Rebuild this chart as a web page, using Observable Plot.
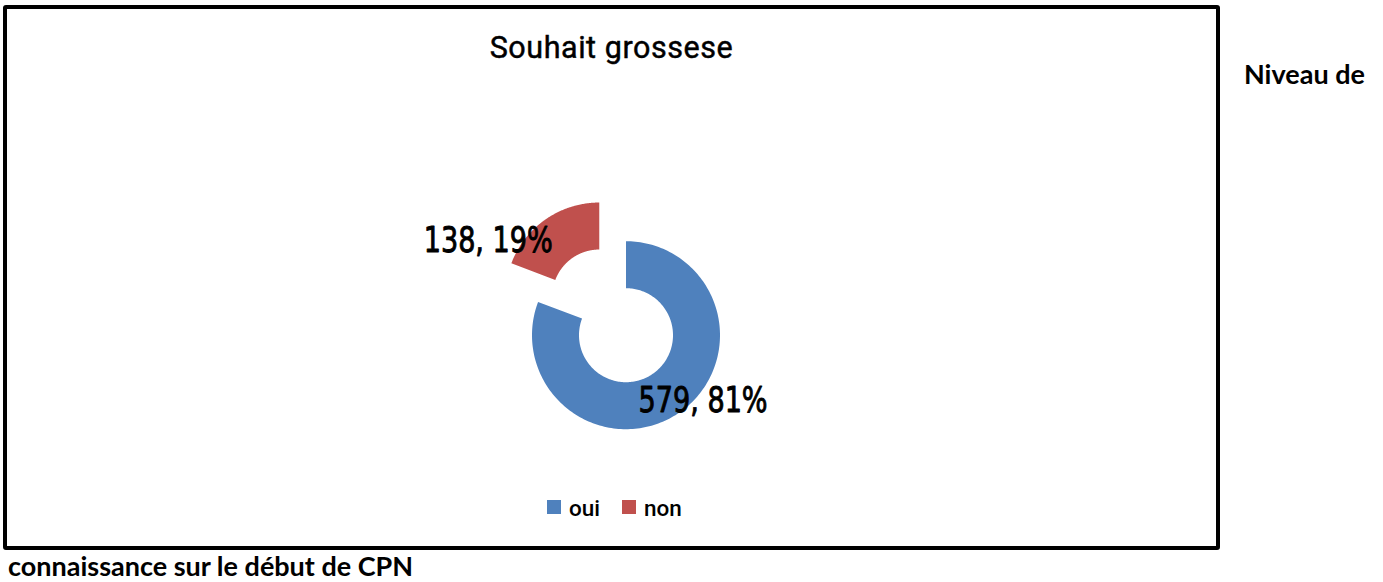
<!DOCTYPE html>
<html>
<head>
<meta charset="utf-8">
<script src="https://cdn.jsdelivr.net/npm/d3@7"></script>
<script src="https://cdn.jsdelivr.net/npm/@observablehq/plot@0.6"></script>
<style>
  html, body { margin: 0; padding: 0; background: #fff; }
  body { width: 1383px; height: 582px; position: relative; overflow: hidden; }
  #frame { position: absolute; left: 3px; top: 5px; width: 1217px; height: 545px; box-sizing: border-box;
           border: 4.5px solid #000; border-radius: 3px; }
  #title { position: absolute; left: 3px; width: 1217px; top: 33px; text-align: center;
           font-family: Roboto, "Noto Sans", sans-serif; font-weight: 400; -webkit-text-stroke: 0.45px #000;
           font-size: 30.5px; letter-spacing: 0.55px; line-height: 30px; color: #000; }
  #legend { position: absolute; left: 0; top: 496px; font-family: Roboto, "Noto Sans", sans-serif; font-weight: 500; font-size: 22.5px; line-height: 24px; color:#000; }
  .sw { position: absolute; width: 14px; height: 14px; top: 4px; }
  .lt { position: absolute; top: 0; white-space: nowrap; }
  .doc { position: absolute; font-family: Lato, "Open Sans", sans-serif; font-weight: 700; font-size: 27px; line-height: 30px; color: #000; white-space: nowrap; }
  #chart { position: absolute; left: 0; top: 0; }
</style>
</head>
<body>
<div id="chart"></div>
<div id="frame"></div>
<div id="title"></div>
<div id="legend"></div>
<div class="doc" id="doc1" style="left:1244px; top:59px;">Niveau de</div>
<div class="doc" id="doc2" style="left:8px; top:551px;">connaissance sur le début de CPN</div>
<script>
// ---- data ----
const title = "Souhait grossese";
const categories = ["oui", "non"];
const values = [579, 138];
const percents = ["81%", "19%"];
const colors = ["#4F81BD", "#C0504D"];
const explode = [0, 0.5];

// ---- layout ----
const W = 1383, H = 582;
const cx = 625.5, cy = 334.7, R = 94, innerRatio = 0.5;
const labelOffset = { oui: [37, 7], non: [-71, 2] }; // pixel nudges from ring midpoint

const data = categories.map((c, i) => ({ cat: c, value: values[i], pct: percents[i], explode: explode[i] }));
const arcs = d3.pie().sort(null).value(d => d.value)(data);

// sample each ring slice into a polygon (unit radius, y up)
const poly = [];
const labels = [];
for (const a of arcs) {
  const mid = (a.startAngle + a.endAngle) / 2;
  const ox = a.data.explode * Math.sin(mid), oy = a.data.explode * Math.cos(mid);
  const n = 200;
  for (let k = 0; k <= n; k++) {
    const t = a.startAngle + (a.endAngle - a.startAngle) * k / n;
    poly.push({ cat: a.data.cat, x: ox + Math.sin(t), y: oy + Math.cos(t) });
  }
  for (let k = n; k >= 0; k--) {
    const t = a.startAngle + (a.endAngle - a.startAngle) * k / n;
    poly.push({ cat: a.data.cat, x: ox + innerRatio * Math.sin(t), y: oy + innerRatio * Math.cos(t) });
  }
  const rm = (1 + innerRatio) / 2;
  const [dx, dy] = labelOffset[a.data.cat];
  labels.push({ cat: a.data.cat, text: `${a.data.value}, ${a.data.pct}`,
    x: ox + rm * Math.sin(mid) + dx / R, y: oy + rm * Math.cos(mid) - dy / R });
}

const plot = Plot.plot({
  width: W, height: H,
  margin: 0,
  x: { domain: [-1, 1], range: [cx - R, cx + R], axis: null },
  y: { domain: [-1, 1], range: [cy + R, cy - R], axis: null },
  color: { domain: categories, range: colors },
  style: { background: "transparent", overflow: "visible" },
  marks: [
    Plot.line(poly, { x: "x", y: "y", z: "cat", fill: "cat", stroke: "none", curve: "linear" }),
    Plot.text(labels, { x: "x", y: "y", text: "text", fill: "#000", stroke: "#000", strokeWidth: 0.9,
      fontSize: 36, fontWeight: 400,
      fontFamily: "'Liberation Sans Narrow', 'DejaVu Sans Condensed', Roboto, sans-serif",
      className: "dlabel" })
  ]
});
document.getElementById("chart").appendChild(plot);
// fit label widths to the reference's condensed face
plot.querySelectorAll(".dlabel text").forEach(t => {
  t.setAttribute("textLength", 129);
  t.setAttribute("lengthAdjust", "spacingAndGlyphs");
});

document.getElementById("title").textContent = title;

// legend
const legend = document.getElementById("legend");
const legendX = [547, 622];
categories.forEach((c, i) => {
  const sw = document.createElement("div");
  sw.className = "sw"; sw.style.left = legendX[i] + "px"; sw.style.background = colors[i];
  const lt = document.createElement("div");
  lt.className = "lt"; lt.style.left = (legendX[i] + 22) + "px"; lt.textContent = c;
  legend.appendChild(sw); legend.appendChild(lt);
});
</script>
</body>
</html>
